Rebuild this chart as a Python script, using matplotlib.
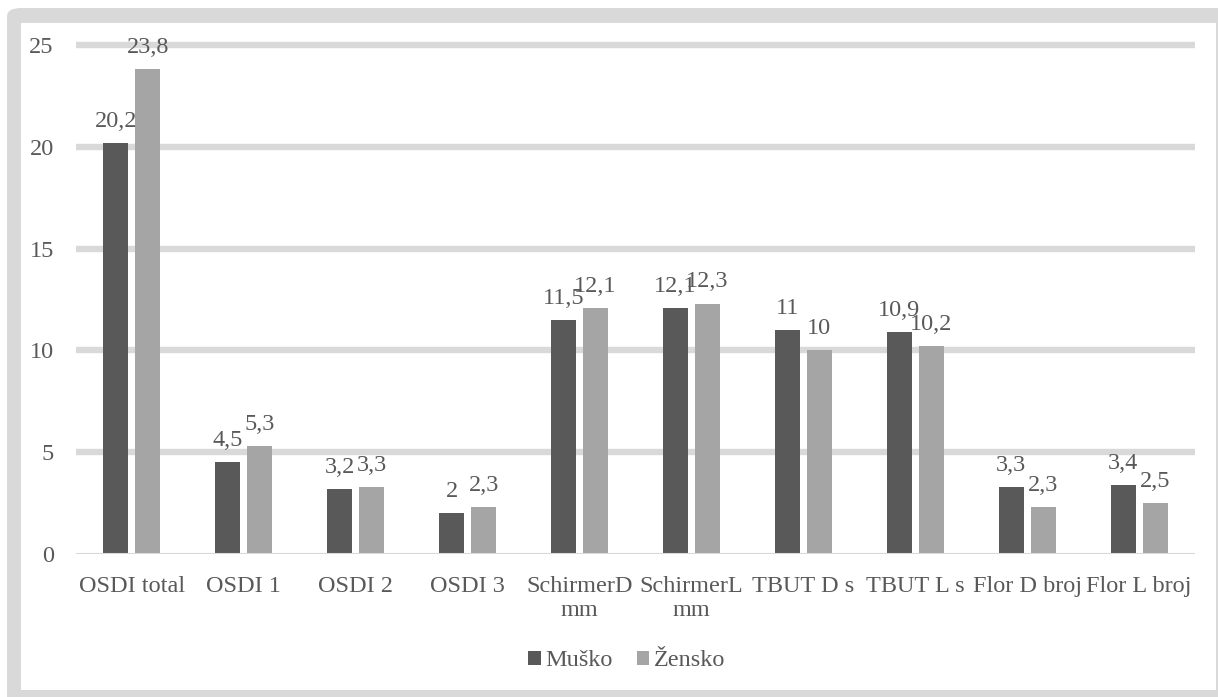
import matplotlib
matplotlib.use('Agg')
import matplotlib.pyplot as plt
from matplotlib.patches import Rectangle, FancyBboxPatch
import numpy as np

categories = ['OSDI total', 'OSDI 1', 'OSDI 2', 'OSDI 3', 'SchirmerD\nmm', 'SchirmerL\nmm',
              'TBUT D s', 'TBUT L s', 'Flor D broj', 'Flor L broj']
musko = [20.2, 4.5, 3.2, 2.0, 11.5, 12.1, 11.0, 10.9, 3.3, 3.4]
zensko = [23.8, 5.3, 3.3, 2.3, 12.1, 12.3, 10.0, 10.2, 2.3, 2.5]
series_names = ['Muško', 'Žensko']
yticks = [0, 5, 10, 15, 20, 25]

dark = '#595959'
light = '#a5a5a5'
grid_col = '#d9d9d9'
text_col = '#595959'
FONT = ['Liberation Serif', 'DejaVu Serif']
FS = 17.5

plt.rcParams['font.family'] = 'serif'
plt.rcParams['font.serif'] = FONT
plt.rcParams['font.size'] = FS

W, H = 1218, 697
fig = plt.figure(figsize=(W / 100, H / 100), dpi=100)
fig.patch.set_facecolor('white')

# grey outer frame and white inner panel
fig.patches.append(FancyBboxPatch((7 / W, -0.05), 1.2, 1 - 8 / H + 0.05,
                                  boxstyle='round,pad=0,rounding_size=0.012',
                                  transform=fig.transFigure, facecolor=grid_col,
                                  edgecolor='none', zorder=-10))
fig.patches.append(Rectangle((21 / W, 1 - 690 / H), (1216 - 21) / W, (690 - 23) / H,
                             transform=fig.transFigure, facecolor='white',
                             edgecolor='none', zorder=-9))

ax = fig.add_axes([76 / W, 1 - 554 / H, (1195 - 76) / W, (554 - 45) / H])
ax.set_facecolor('none')

x = np.arange(len(categories))
bw = 0.223
off = 0.143
b1 = ax.bar(x - off, musko, bw, color=dark, label=series_names[0], zorder=3)
b2 = ax.bar(x + off, zensko, bw, color=light, label=series_names[1], zorder=3)

fmt = lambda v: f'{v:g}'.replace('.', ',')
ax.bar_label(b1, labels=[fmt(v) for v in musko], padding=8, color=text_col,
             fontsize=FS, family=FONT)
ax.bar_label(b2, labels=[fmt(v) for v in zensko], padding=8, color=text_col,
             fontsize=FS, family=FONT)

ax.set_xlim(-0.5, len(categories) - 0.5)
ax.set_ylim(0, 25)
ax.set_yticks(yticks)
for t in yticks[1:]:
    ax.axhline(t, color=grid_col, lw=4.6, zorder=1, solid_capstyle='butt', clip_on=False)
ax.axhline(0, color=grid_col, lw=1.5, zorder=4)

ax.set_xticks(x)
ax.set_xticklabels(categories, color=text_col, linespacing=1.2, family=FONT, fontsize=FS)
ax.set_yticklabels([str(t) for t in yticks], color=text_col, family=FONT, fontsize=FS)
ax.tick_params(axis='x', length=0, pad=15.5)
ax.tick_params(axis='y', length=0, pad=16)
for s in ax.spines.values():
    s.set_visible(False)

ax.legend(loc='center', bbox_to_anchor=(627 / W, 1 - 661 / H), bbox_transform=fig.transFigure,
          ncol=2, frameon=False, handlelength=0.5, handleheight=0.5, handletextpad=0.2,
          columnspacing=1.0, labelcolor=text_col, prop={'family': FONT, 'size': FS})

fig.savefig('out.png', dpi=100)
